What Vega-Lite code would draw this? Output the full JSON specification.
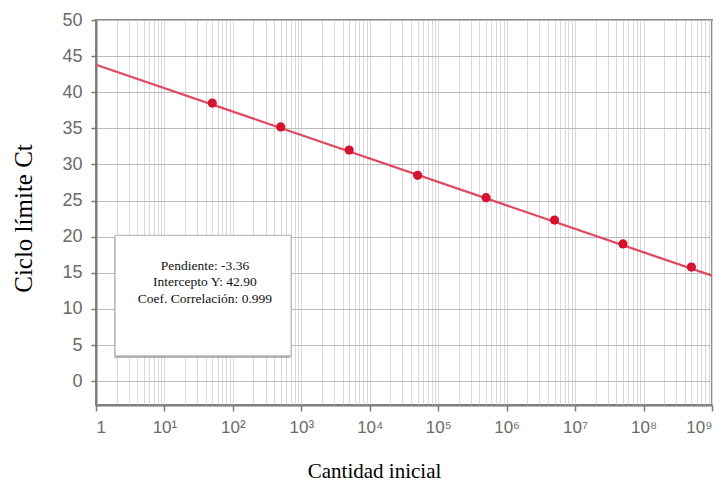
{
  "$schema": "https://vega.github.io/schema/vega-lite/v6.json",
  "width": 616,
  "height": 385,
  "autosize": "none",
  "padding": {"left": 96, "top": 20, "right": 16, "bottom": 80},
  "background": "white",
  "config": {
    "view": {"stroke": "#8a8a8a", "strokeWidth": 2},
    "axis": {"labelFont": "Liberation Sans", "titleFont": "Liberation Serif", "titleFontWeight": "normal", "titleColor": "#000"},
    "axisY": {
      "tickCount": 11, "labelOverlap": false,
      "grid": true, "gridColor": "#bbbbbb", "gridWidth": 1,
      "domainColor": "#7a7a7a", "domainWidth": 2,
      "tickColor": "#7a7a7a", "tickSize": 5, "tickWidth": 1.5,
      "labelFontSize": 18, "labelColor": "#6a6a6a", "labelPadding": 9,
      "titleFontSize": 25, "titleX": -73, "titleY": 198, "titleBaseline": "middle", "titleAngle": -90
    }
  },
  "datasets": {
    "pts": [
      {"x": 50, "y": 38.5},
      {"x": 500, "y": 35.2},
      {"x": 5000, "y": 32.0},
      {"x": 50000, "y": 28.5},
      {"x": 500000, "y": 25.4},
      {"x": 5000000, "y": 22.3},
      {"x": 50000000, "y": 19.0},
      {"x": 500000000, "y": 15.8}
    ],
    "fit": [
      {"x": 1, "y": 43.8},
      {"x": 1000000000, "y": 14.6}
    ],
    "box": [{"x": 1.9, "x2": 709, "y": 20.2, "y2": 3.5}],
    "shadow": [{"x": 1.85, "x2": 690, "y": 19.9, "y2": 3.2}],
    "stats": [
      {"x": 39, "y": 16.0, "t": "Pendiente: -3.36"},
      {"x": 39, "y": 13.7, "t": "Intercepto Y: 42.90"},
      {"x": 39, "y": 11.4, "t": "Coef. Correlación: 0.999"}
    ]
  },
  "resolve": {"axis": {"x": "independent"}},
  "layer": [
    {
      "data": {"name": "fit"},
      "mark": {"type": "line", "color": "#e04a62", "strokeWidth": 2.3},
      "encoding": {
        "x": {
          "field": "x", "type": "quantitative",
          "scale": {"type": "log", "domain": [1, 1000000000], "nice": false},
          "axis": {
            "orient": "bottom",
            "values": [1,2,3,4,5,6,7,8,9,10,20,30,40,50,60,70,80,90,100,200,300,400,500,600,700,800,900,1000,2000,3000,4000,5000,6000,7000,8000,9000,10000,20000,30000,40000,50000,60000,70000,80000,90000,100000,200000,300000,400000,500000,600000,700000,800000,900000,1000000,2000000,3000000,4000000,5000000,6000000,7000000,8000000,9000000,10000000,20000000,30000000,40000000,50000000,60000000,70000000,80000000,90000000,100000000,200000000,300000000,400000000,500000000,600000000,700000000,800000000,900000000,1000000000],
            "labels": false, "ticks": false, "domain": false, "title": null,
            "grid": true, "gridColor": "#d9d9d9", "gridWidth": 1
          }
        },
        "y": {
          "field": "y", "type": "quantitative",
          "scale": {"domain": [-3.3, 50], "nice": false, "zero": false},
          "axis": {"values": [0,5,10,15,20,25,30,35,40,45,50], "title": "Ciclo límite Ct"}
        }
      }
    },
    {
      "data": {"name": "shadow"},
      "mark": {"type": "rect", "color": "#9a9a9a", "opacity": 0.7},
      "encoding": {
        "x": {"field": "x", "type": "quantitative", "scale": {"type": "log", "domain": [1, 1000000000], "nice": false}, "axis": null},
        "x2": {"field": "x2"},
        "y": {"field": "y", "type": "quantitative", "axis": {"values": [0,5,10,15,20,25,30,35,40,45,50], "title": "Ciclo límite Ct"}},
        "y2": {"field": "y2"}
      }
    },
    {
      "data": {"name": "box"},
      "mark": {"type": "rect", "color": "white", "stroke": "#9a9a9a", "strokeWidth": 0.8},
      "encoding": {
        "x": {"field": "x", "type": "quantitative", "scale": {"type": "log", "domain": [1, 1000000000], "nice": false}, "axis": null},
        "x2": {"field": "x2"},
        "y": {"field": "y", "type": "quantitative", "axis": {"values": [0,5,10,15,20,25,30,35,40,45,50], "title": "Ciclo límite Ct"}},
        "y2": {"field": "y2"}
      }
    },
    {
      "data": {"name": "stats"},
      "mark": {"type": "text", "font": "Liberation Serif", "fontSize": 13.5, "color": "#111", "align": "center", "baseline": "middle"},
      "encoding": {
        "x": {"field": "x", "type": "quantitative", "scale": {"type": "log", "domain": [1, 1000000000], "nice": false}, "axis": null},
        "y": {"field": "y", "type": "quantitative", "axis": {"values": [0,5,10,15,20,25,30,35,40,45,50], "title": "Ciclo límite Ct"}},
        "text": {"field": "t"}
      }
    },
    {
      "data": {"name": "pts"},
      "mark": {"type": "point", "filled": true, "color": "#d5132f", "size": 85, "opacity": 1},
      "encoding": {
        "x": {
          "field": "x", "type": "quantitative",
          "scale": {"type": "log", "domain": [1, 1000000000], "nice": false},
          "axis": {
            "orient": "bottom",
            "values": [1,10,100,1000,10000,100000,1000000,10000000,100000000,1000000000],
            "labelExpr": "datum.value < 2 ? '1' : '10' + ['', '¹', '²', '³', '⁴', '⁵', '⁶', '⁷', '⁸', '⁹'][round(log(datum.value)/LN10)]",
            "grid": false,
            "domainColor": "#7a7a7a", "domainWidth": 2,
            "tickColor": "#7a7a7a", "tickSize": 6, "tickWidth": 1.5,
            "labelFontSize": 17, "labelColor": "#6a6a6a", "labelPadding": 8,
            "title": "Cantidad inicial", "titleFontSize": 21,
            "titleX": 278, "titleY": 72, "titleBaseline": "alphabetic"
          }
        },
        "y": {
          "field": "y", "type": "quantitative",
          "axis": {"values": [0,5,10,15,20,25,30,35,40,45,50], "title": "Ciclo límite Ct"}
        }
      }
    }
  ]
}
